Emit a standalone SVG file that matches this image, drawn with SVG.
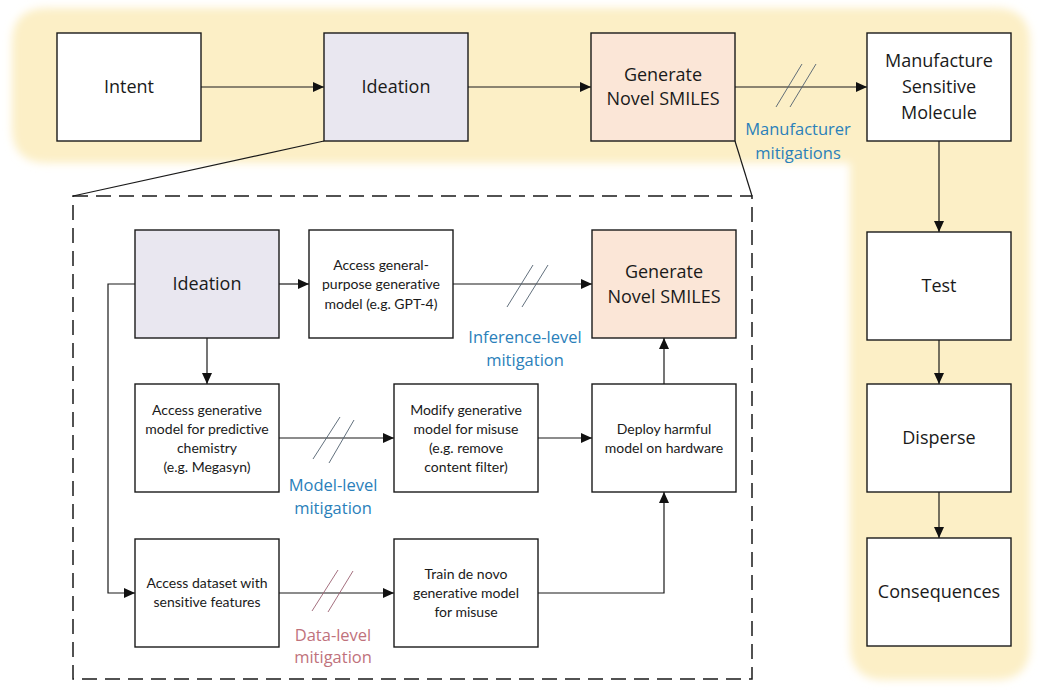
<svg xmlns="http://www.w3.org/2000/svg" width="1038" height="691" viewBox="0 0 1038 691">
<style>
.box{stroke:#1a1a1a;stroke-width:1.4}
.w{fill:#ffffff}
.lav{fill:#E9E7F0}
.peach{fill:#FBE6D7}
.big{font-family:"Open Sans","DejaVu Sans",sans-serif;font-size:18px;fill:#1a1a1a;text-anchor:middle}
.sm{font-family:Lato,"Liberation Sans",sans-serif;font-size:14px;fill:#1a1a1a;text-anchor:middle;font-variant-ligatures:none;font-feature-settings:"liga" 0}
.mit{font-family:"Open Sans","DejaVu Sans",sans-serif;font-size:16.5px;text-anchor:middle}
.blue{fill:#2A80BA}
.red{fill:#BF727C}
.ln{fill:none;stroke:#1a1a1a;stroke-width:1.2}
.hash{fill:none;stroke:#50606e;stroke-width:0.9}
.hashr{fill:none;stroke:#9a6070;stroke-width:0.9}
</style>
<defs>
<marker id="ah" markerWidth="12" markerHeight="10" refX="11" refY="5" orient="auto" markerUnits="userSpaceOnUse">
<path d="M0,0 L11,5 L0,10 Z" fill="#111"/>
</marker>
<filter id="soft" x="-5%" y="-5%" width="110%" height="110%"><feGaussianBlur stdDeviation="4"/></filter>
</defs>
<rect width="1038" height="691" fill="#ffffff"/>
<path id="band" d="M47,8 H995 Q1030,8 1030,43 V645 Q1030,680 995,680 H885 Q850,680 850,645 V163 H47 Q12,163 12,128 V43 Q12,8 47,8 Z" fill="#FCEFC6" filter="url(#soft)"/>

<g id="connectors">
<line class="ln" x1="201" y1="87" x2="324" y2="87" marker-end="url(#ah)"/>
<line class="ln" x1="468" y1="87" x2="591" y2="87" marker-end="url(#ah)"/>
<line class="ln" x1="735" y1="87" x2="867" y2="87" marker-end="url(#ah)"/>
<line class="hash" x1="776" y1="107" x2="802" y2="64"/>
<line class="hash" x1="790" y1="107" x2="816" y2="64"/>
<line class="ln" x1="939" y1="141" x2="939" y2="232" marker-end="url(#ah)"/>
<line class="ln" x1="939" y1="340" x2="939" y2="384" marker-end="url(#ah)"/>
<line class="ln" x1="939" y1="492" x2="939" y2="538" marker-end="url(#ah)"/>
<line class="ln" x1="324" y1="141" x2="73" y2="196"/>
<line class="ln" x1="735" y1="141" x2="752" y2="196"/>
<rect x="73" y="196" width="679" height="483" fill="none" stroke="#1a1a1a" stroke-width="1.5" stroke-dasharray="15 8"/>
<line class="ln" x1="279" y1="284" x2="309" y2="284" marker-end="url(#ah)"/>
<line class="ln" x1="453" y1="284" x2="592" y2="284" marker-end="url(#ah)"/>
<line class="hash" x1="507" y1="307" x2="533" y2="265"/>
<line class="hash" x1="522" y1="307" x2="548" y2="265"/>
<line class="ln" x1="207" y1="338" x2="207" y2="384" marker-end="url(#ah)"/>
<polyline class="ln" points="135,284 108,284 108,593 135,593" marker-end="url(#ah)"/>
<line class="ln" x1="279" y1="438" x2="394" y2="438" marker-end="url(#ah)"/>
<line class="hash" x1="313" y1="459" x2="340" y2="417"/>
<line class="hash" x1="329" y1="463" x2="354" y2="420"/>
<line class="ln" x1="538" y1="438" x2="592" y2="438" marker-end="url(#ah)"/>
<line class="ln" x1="664" y1="385" x2="664" y2="338" marker-end="url(#ah)"/>
<line class="ln" x1="279" y1="593" x2="394" y2="593" marker-end="url(#ah)"/>
<line class="hashr" x1="312" y1="611" x2="338" y2="570"/>
<line class="hashr" x1="328" y1="612" x2="353" y2="571"/>
<polyline class="ln" points="538,593 664,593 664,492" marker-end="url(#ah)"/>
</g>

<g id="intent"><rect class="box w" x="57" y="33" width="144" height="108"/><text class="big" x="129" y="93">Intent</text></g>
<g id="ideation"><rect class="box lav" x="324" y="33" width="144" height="108"/><text class="big" x="396" y="93">Ideation</text></g>
<g id="gns"><rect class="box peach" x="591" y="33" width="144" height="108"/><text class="big" x="663" y="81">Generate</text><text class="big" x="663" y="105">Novel SMILES</text></g>
<g id="manufacture"><rect class="box w" x="867" y="33" width="144" height="108"/><text class="big" x="939" y="67">Manufacture</text><text class="big" x="939" y="93">Sensitive</text><text class="big" x="939" y="119">Molecule</text></g>
<g id="test"><rect class="box w" x="867" y="232" width="144" height="108"/><text class="big" x="939" y="292">Test</text></g>
<g id="disperse"><rect class="box w" x="867" y="384" width="144" height="108"/><text class="big" x="939" y="444">Disperse</text></g>
<g id="consequences"><rect class="box w" x="867" y="538" width="144" height="108"/><text class="big" x="939" y="598">Consequences</text></g>

<g id="ideation2"><rect class="box lav" x="135" y="230" width="144" height="108"/><text class="big" x="207" y="290">Ideation</text></g>
<g id="access-gp"><rect class="box w" x="309" y="230" width="144" height="108"/><text class="sm" x="381" y="270">Access general-</text><text class="sm" x="381" y="289">purpose generative</text><text class="sm" x="381" y="309">model (e.g. GPT-4)</text></g>
<g id="gns2"><rect class="box peach" x="592" y="230" width="144" height="108"/><text class="big" x="664" y="278">Generate</text><text class="big" x="664" y="303">Novel SMILES</text></g>
<g id="access-gm"><rect class="box w" x="135" y="384" width="144" height="108"/><text class="sm" x="207" y="415">Access generative</text><text class="sm" x="207" y="434">model for predictive</text><text class="sm" x="207" y="453">chemistry</text><text class="sm" x="207" y="472">(e.g. Megasyn)</text></g>
<g id="modify"><rect class="box w" x="394" y="384" width="144" height="108"/><text class="sm" x="466" y="415">Modify generative</text><text class="sm" x="466" y="434">model for misuse</text><text class="sm" x="466" y="453">(e.g. remove</text><text class="sm" x="466" y="472">content filter)</text></g>
<g id="deploy"><rect class="box w" x="592" y="384" width="144" height="108"/><text class="sm" x="664" y="434">Deploy harmful</text><text class="sm" x="664" y="453">model on hardware</text></g>
<g id="access-ds"><rect class="box w" x="135" y="539" width="144" height="108"/><text class="sm" x="207" y="588">Access dataset with</text><text class="sm" x="207" y="607">sensitive features</text></g>
<g id="train"><rect class="box w" x="394" y="539" width="144" height="108"/><text class="sm" x="466" y="579">Train de novo</text><text class="sm" x="466" y="598">generative model</text><text class="sm" x="466" y="617">for misuse</text></g>

<g id="labels">
<text class="mit blue" x="798" y="135">Manufacturer</text>
<text class="mit blue" x="798" y="159">mitigations</text>
<text class="mit blue" x="525" y="343">Inference-level</text>
<text class="mit blue" x="525" y="366">mitigation</text>
<text class="mit blue" x="333" y="491">Model-level</text>
<text class="mit blue" x="333" y="514">mitigation</text>
<text class="mit red" x="333" y="641">Data-level</text>
<text class="mit red" x="333" y="663">mitigation</text>
</g>
</svg>
